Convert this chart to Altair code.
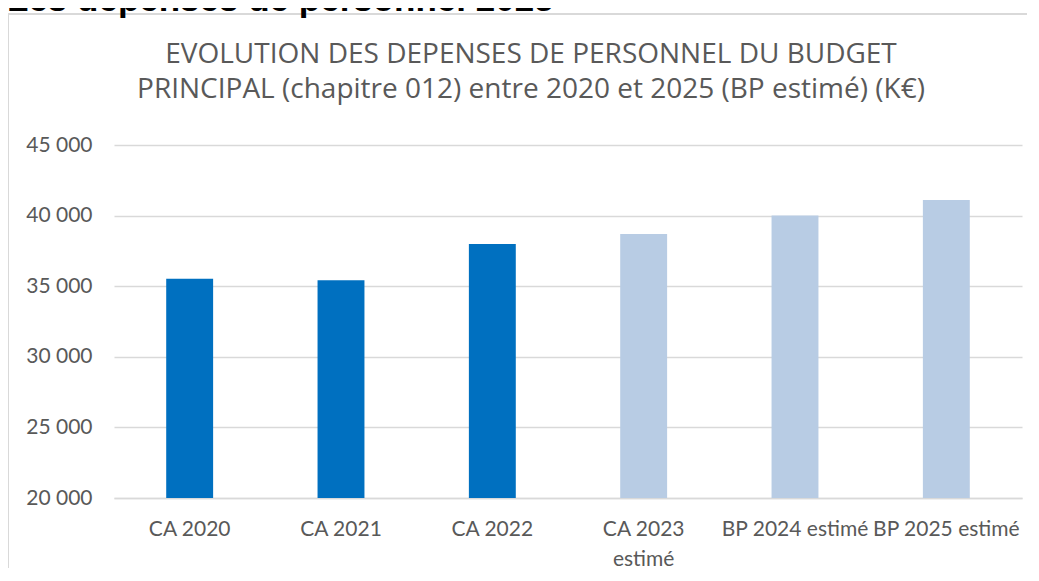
import altair as alt
import pandas as pd

categories = ["CA 2020", "CA 2021", "CA 2022", "CA 2023 estimé", "BP 2024 estimé", "BP 2025 estimé"]
values = [35520, 35420, 37990, 38690, 40000, 41110]
kinds = ["réalisé", "réalisé", "réalisé", "estimé", "estimé", "estimé"]
y_ticks = [20000, 25000, 30000, 35000, 40000, 45000]

heading = "Les dépenses de personnel 2025"
title_line1 = "EVOLUTION DES DEPENSES DE PERSONNEL DU BUDGET"
title_line2 = "PRINCIPAL (chapitre 012) entre 2020 et 2025 (BP estimé) (K€)"

df = pd.DataFrame({"cat": categories, "val": values, "kind": kinds})
one = pd.DataFrame({"t": [heading]})

FONT = "Lato"
TFONT = "Open Sans"
GREY = "#595959"

bars = alt.Chart(df).mark_bar(clip=True).encode(
    x=alt.X("cat:N", sort=categories, title=None,
            scale=alt.Scale(paddingInner=0.69, paddingOuter=0.345),
            axis=alt.Axis(labelAngle=0, ticks=False, tickSize=0, labelPadding=20,
                          labelFontSize=21, labelColor=GREY, labelFont=FONT,
                          labelLineHeight=30, labelBaseline="top",
                          domainColor="#d9d9d9", domainWidth=1.5, grid=False,
                          labelExpr="datum.label == 'CA 2023 estimé' ? ['CA 2023', 'estimé'] : datum.label")),
    y=alt.Y("val:Q", title=None,
            scale=alt.Scale(domain=[20000, 45000], zero=False, nice=False),
            axis=alt.Axis(values=y_ticks, ticks=False, tickSize=0, domain=False,
                          labelPadding=22, labelFontSize=21, labelColor=GREY, labelFont=FONT,
                          gridColor="#d9d9d9", gridWidth=1.5,
                          labelExpr="replace(format(datum.value, ',.0f'), ',', ' ')")),
    color=alt.Color("kind:N", scale=alt.Scale(domain=["réalisé", "estimé"],
                                               range=["#0070C0", "#B8CCE4"]), legend=None),
)

border = alt.Chart(one).mark_rect(fillOpacity=0, stroke="#d9d9d9", strokeWidth=2).encode(
    x=alt.value(-106), x2=alt.value(940), y=alt.value(-131), y2=alt.value(520)
)

head = alt.Chart(one).mark_text(align="left", baseline="alphabetic", font="Liberation Sans",
                                 fontWeight="bold", fontSize=35, color="#000000").encode(
    x=alt.value(-107), y=alt.value(-134), text="t:N"
)

t1 = alt.Chart(one).mark_text(align="center", baseline="alphabetic", font=TFONT,
                               fontSize=28, color=GREY).encode(
    x=alt.value(417), y=alt.value(-82), text=alt.value(title_line1)
)
t2 = alt.Chart(one).mark_text(align="center", baseline="alphabetic", font=TFONT,
                               fontSize=28, color=GREY).encode(
    x=alt.value(417), y=alt.value(-47), text=alt.value(title_line2)
)

chart = alt.layer(border, head, t1, t2, bars).properties(
    width=908, height=353,
    padding={"left": 106, "top": 137, "right": 5, "bottom": 70},
    autosize=alt.AutoSizeParams(type="none"),
).configure_view(stroke=None)

chart.save("out.html", embed_options={"renderer": "svg", "actions": False})
